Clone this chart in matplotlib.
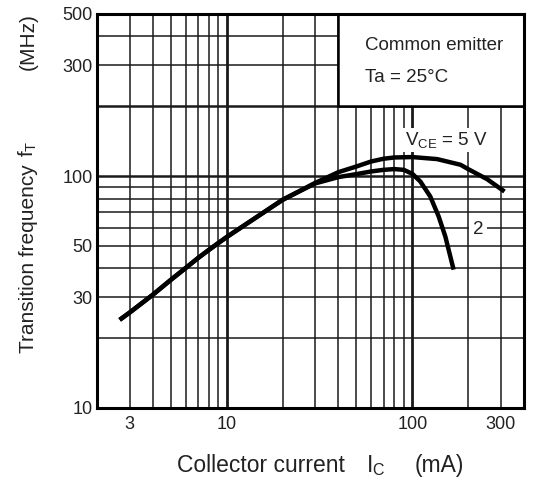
import matplotlib
matplotlib.use("Agg")
import matplotlib.pyplot as plt
from matplotlib.patches import Rectangle

plt.rcParams['font.family'] = ['Liberation Sans', 'DejaVu Sans']
plt.rcParams['mathtext.fontset'] = 'custom'
plt.rcParams['mathtext.rm'] = 'Liberation Sans'
plt.rcParams['mathtext.it'] = 'Liberation Sans:italic'

# Data
ic_5v = [2.65, 3, 4, 5, 6, 7, 8, 9, 10, 20, 30, 40, 50, 60, 70, 80, 100, 136, 182, 200, 253, 314]
ft_5v = [24.0, 25.8, 30.8, 35.7, 40.1, 44.3, 48.0, 51.4, 54.6, 79, 93.5, 104, 110, 115.6,
         118.8, 120.3, 120.8, 118.4, 111.9, 107.2, 97, 85.8]
ic_2v = [2.65, 3, 4, 5, 6, 7, 8, 9, 10, 20, 30, 40, 50, 60, 70, 80, 90, 100, 110.5, 125,
         138.7, 150.7, 167]
ft_2v = [24.0, 25.8, 30.8, 35.7, 40.1, 44.3, 48.0, 51.4, 54.6, 79, 93.0, 99, 102, 104.7,
         106.4, 107.2, 106.4, 102.3, 94.8, 81.7, 67, 54.9, 39.5]

x_ticks = [3, 10, 100, 300]
x_ticklabels = ['3', '10', '100', '300']
y_ticks = [10, 30, 50, 100, 300, 500]
y_ticklabels = ['10', '30', '50', '100', '300', '500']

x_grid = [3, 4, 5, 6, 7, 8, 9, 20, 30, 40, 50, 60, 70, 80, 90, 200, 300]
x_grid_major = [10, 100]
y_grid = [20, 30, 40, 50, 60, 70, 80, 90, 300, 400]
y_grid_major = [100, 200]

W, H = 543, 482
fig = plt.figure(figsize=(W / 100, H / 100), dpi=100)
ax = fig.add_axes([97 / W, 1 - 408 / H, 427 / W, 394 / H])
ax.set_xscale('log')
ax.set_yscale('log')
ax.set_xlim(2, 400)
ax.set_ylim(10, 500)

gc = '#1a1a1a'
for xv in x_grid:
    ax.axvline(xv, color=gc, lw=1.1, zorder=1)
for xv in x_grid_major:
    ax.axvline(xv, color=gc, lw=2.0, zorder=1)
for yv in y_grid:
    ax.axhline(yv, color=gc, lw=1.1, zorder=1)
for yv in y_grid_major:
    ax.axhline(yv, color=gc, lw=1.8, zorder=1)

ax.plot(ic_5v, ft_5v, color='black', lw=3.2, solid_capstyle='butt',
        solid_joinstyle='round', zorder=4)
ax.plot(ic_2v, ft_2v, color='black', lw=3.2, solid_capstyle='butt',
        solid_joinstyle='round', zorder=4)

ax.set_xticks(x_ticks)
ax.set_xticklabels(x_ticklabels)
ax.set_yticks(y_ticks)
ax.set_yticklabels(y_ticklabels)
ax.minorticks_off()
ax.tick_params(axis='both', length=0, labelsize=13, colors='#222222', pad=3)
ax.tick_params(axis='x', pad=6)
for s in ax.spines.values():
    s.set_linewidth(2.2)
    s.set_color('black')
    s.set_zorder(6)

# Condition box
ax.add_patch(Rectangle((40, 200), 360, 300, facecolor='white', edgecolor='black',
                       lw=1.8, zorder=3))
ax.text(0.628, 0.921, 'Common emitter', transform=ax.transAxes, fontsize=13.5,
        color='#222222', ha='left', va='center', zorder=5)
ax.text(0.628, 0.840, 'Ta = 25°C', transform=ax.transAxes, fontsize=13.5,
        color='#222222', ha='left', va='center', zorder=5)

ax.text(0.721, 0.680, r'$\mathrm{V}_{\mathrm{CE}}$ = 5 V', transform=ax.transAxes,
        fontsize=13.5, color='#222222', ha='left', va='center', zorder=5,
        bbox=dict(facecolor='white', edgecolor='none', pad=1.5))
ax.text(0.892, 0.452, '2', transform=ax.transAxes, fontsize=13.5,
        color='#222222', ha='center', va='center', zorder=5,
        bbox=dict(facecolor='white', edgecolor='none', pad=2.5))

# X label pieces
base_y = 1 - 471.7 / H
fig.text(177 / W, base_y, 'Collector current', fontsize=16.5, color='#222222',
         ha='left', va='baseline')
fig.text(366 / W, base_y, r'$\mathrm{I}_{\mathrm{C}}$', fontsize=16.5, color='#222222',
         ha='left', va='baseline')
fig.text(415 / W, base_y, '(mA)', fontsize=16.5, color='#222222',
         ha='left', va='baseline')

# Y label pieces
yx = 28 / W
fig.text(yx, 1 - 353 / H, 'Transition frequency', fontsize=15, color='#222222',
         rotation=90, rotation_mode='anchor', ha='left', va='center')
fig.text(yx, 1 - 157 / H, r'$\mathrm{f}_{\mathrm{T}}$', fontsize=15, color='#222222',
         rotation=90, rotation_mode='anchor', ha='left', va='center')
fig.text(yx, 1 - 70 / H, '(MHz)', fontsize=15, color='#222222',
         rotation=90, rotation_mode='anchor', ha='left', va='center')

fig.savefig('out.png', dpi=100)
